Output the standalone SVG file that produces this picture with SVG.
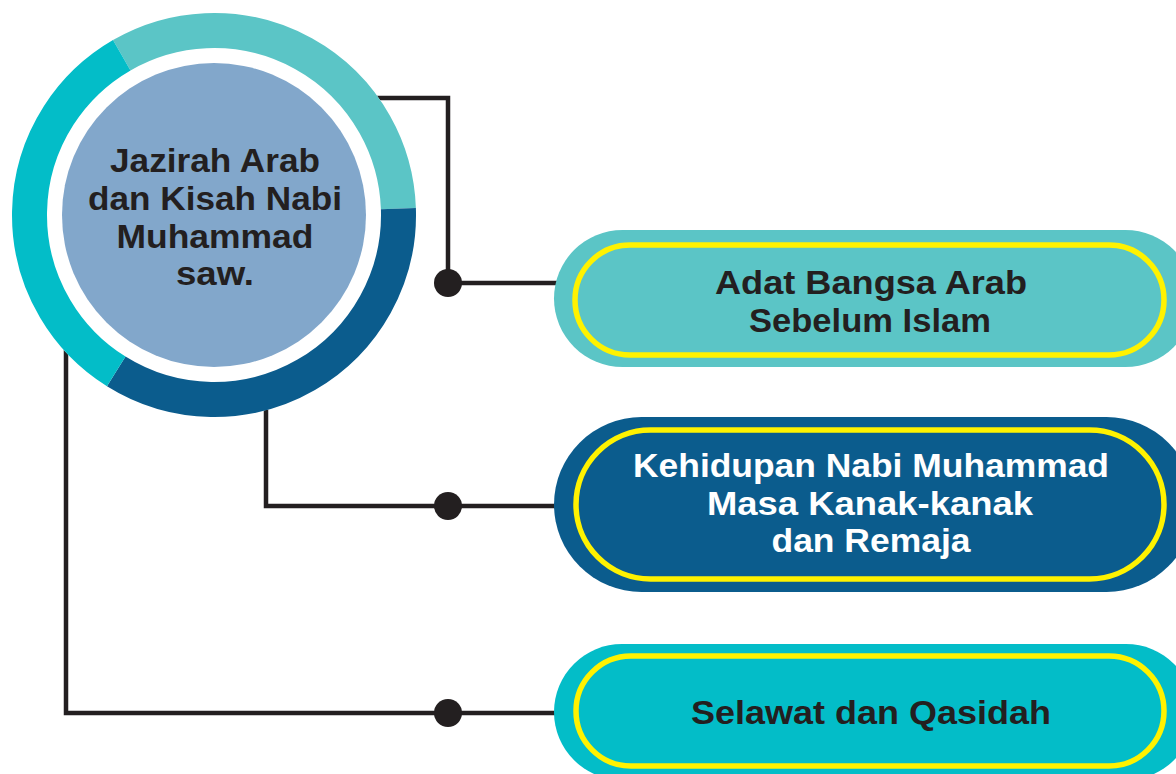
<svg xmlns="http://www.w3.org/2000/svg" width="1176" height="774" viewBox="0 0 1176 774">
<style>
.conn{fill:none;stroke:#231F20;stroke-width:4.5}
.dot{fill:#231F20}
.txt{font-family:"Liberation Sans",Arial,sans-serif;font-weight:bold;font-size:33px;fill:#231F20;text-anchor:middle}
.white{fill:#FFFFFF}
.inner{fill:none;stroke:#FFF200;stroke-width:5.5}
.ring{fill:none;stroke-width:35}
</style>
<rect width="1176" height="774" fill="#FFFFFF"/>
<g id="connectors">
<path class="conn" d="M370,98 H448 V283 H560"/>
<path class="conn" d="M266,400 V506 H560"/>
<path class="conn" d="M66,340 V713 H560"/>
<circle class="dot" cx="448" cy="283" r="14"/>
<circle class="dot" cx="448" cy="506" r="14"/>
<circle class="dot" cx="448" cy="713" r="14"/>
</g>
<g id="center">
<circle cx="214" cy="215" r="202" fill="#FFFFFF"/>
<path class="ring" stroke="#5BC5C6" d="M121.75,55.22 A184.5,184.5 0 0 1 398.39,208.56"/>
<path class="ring" stroke="#0B5C8D" d="M398.39,208.56 A184.5,184.5 0 0 1 116.23,371.46"/>
<path class="ring" stroke="#03BDC8" d="M116.23,371.46 A184.5,184.5 0 0 1 121.75,55.22"/>
<circle cx="214" cy="215" r="152" fill="#82A7CB"/>
<text class="txt" x="215" y="172" textLength="210" lengthAdjust="spacingAndGlyphs">Jazirah Arab</text>
<text class="txt" x="215" y="210" textLength="254" lengthAdjust="spacingAndGlyphs">dan Kisah Nabi</text>
<text class="txt" x="215" y="248" textLength="197" lengthAdjust="spacingAndGlyphs">Muhammad</text>
<text class="txt" x="215" y="285" textLength="78" lengthAdjust="spacingAndGlyphs">saw.</text>
</g>
<g id="node1">
<rect x="554" y="230" width="640" height="137" rx="68.5" fill="#5BC5C6"/>
<rect class="inner" x="575" y="245" width="589" height="110" rx="55"/>
<text class="txt" x="871" y="294" textLength="312" lengthAdjust="spacingAndGlyphs">Adat Bangsa Arab</text>
<text class="txt" x="870" y="332" textLength="242" lengthAdjust="spacingAndGlyphs">Sebelum Islam</text>
</g>
<g id="node2">
<rect x="554" y="417" width="640" height="175" rx="87.5" fill="#0B5C8D"/>
<rect class="inner" x="576" y="430" width="588" height="149" rx="74.5"/>
<text class="txt white" x="871" y="477" textLength="476" lengthAdjust="spacingAndGlyphs">Kehidupan Nabi Muhammad</text>
<text class="txt white" x="870" y="515" textLength="326" lengthAdjust="spacingAndGlyphs">Masa Kanak-kanak</text>
<text class="txt white" x="871" y="552" textLength="199" lengthAdjust="spacingAndGlyphs">dan Remaja</text>
</g>
<g id="node3">
<rect x="554" y="644" width="640" height="136" rx="68" fill="#03BDC8"/>
<rect class="inner" x="576" y="656" width="588" height="110" rx="55"/>
<text class="txt" x="871" y="724" textLength="360" lengthAdjust="spacingAndGlyphs">Selawat dan Qasidah</text>
</g>
</svg>
